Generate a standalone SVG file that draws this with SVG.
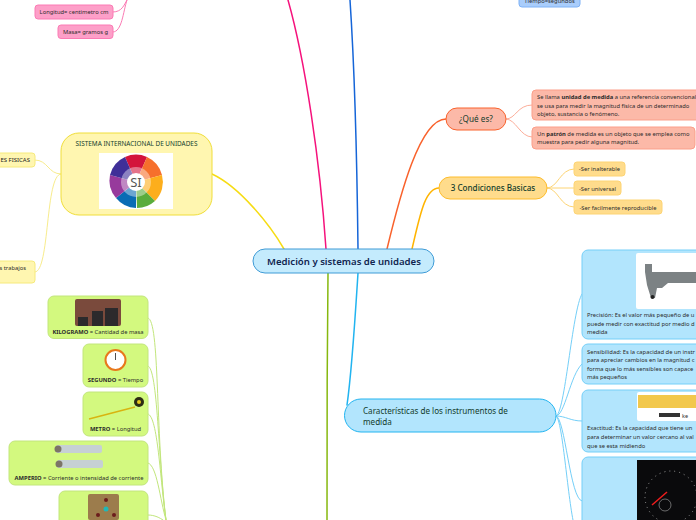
<svg xmlns="http://www.w3.org/2000/svg" width="696" height="520" viewBox="0 0 696 520">
<style>
text{font-family:"Noto Sans","Open Sans",sans-serif;font-size:5.8px;fill:#2c2c2c}
.b{font-weight:700}
.c{fill:none;stroke-linecap:round}
.pk{fill:#fd9fc8;stroke:#fb7bb4;stroke-width:1}
.ye{fill:#fff6b0;stroke:#f6ea7c;stroke-width:1}
.gr{fill:#d3f97f;stroke:#c2e67c;stroke-width:1}
.cy{fill:#b2e5fd;stroke:#74cff8;stroke-width:1}
.re{fill:#fcb9a8;stroke:#fb9f8a;stroke-width:1}
.or{fill:#ffdc8c;stroke:#fdd474;stroke-width:1}
.m{text-anchor:middle}
</style>
<rect width="696" height="520" fill="#fff"/>
<g id="connectors">
<path class="c" d="M326 249C320 160 305 60 288 0" stroke="#f5127c" stroke-width="1.500"/>
<path class="c" d="M113 12C122 12 124 5 127 0M113 32C122 32 123 12 127 0" stroke="#fb7bb4" stroke-width="1"/>
<path class="c" d="M358 249C357 160 354 60 350 0" stroke="#1565d8" stroke-width="1.500"/>
<path class="c" d="M387 249C400 195 420 119 446 119" stroke="#f9622c" stroke-width="1.500"/>
<path class="c" d="M412 249C420 215 425 188 439 188" stroke="#ffb400" stroke-width="1.500"/>
<path class="c" d="M284 249C270 225 240 187 212 174" stroke="#f6dc14" stroke-width="1.500"/>
<path class="c" d="M328 273C327 350 327 450 327 520" stroke="#86b80e" stroke-width="1.500"/>
<path class="c" d="M358 273C355 320 352 370 347 405" stroke="#22b4f0" stroke-width="1.500"/>
<path class="c" d="M506 119C516 119 517 105 532 105M506 119C516 119 520 137 532 137" stroke="#fcae9a" stroke-width="1"/>
<path class="c" d="M547 188C558 188 560 169 574 169M547 188H574M547 188C558 188 560 207 574 207" stroke="#fdd474" stroke-width="1"/>
<path class="c" d="M61 174C48 174 48 160 35 160M61 174C45 174 50 272 35 272" stroke="#f8ec8c" stroke-width="1"/>
<path class="c" d="M148 318C160 320 155 430 166 520M148 366C158 368 158 460 166 520M148 414C158 416 160 480 166 520M148 463C157 465 160 500 166 520M148 515C155 515 160 518 163 520" stroke="#c2e67c" stroke-width="1"/>
<path class="c" d="M556 416C565 416 572 310 582 294M556 416C565 416 570 375 582 364M556 416C566 416 570 421 582 421M556 416C565 416 570 500 582 501M556 416C562 416 567 490 573 520" stroke="#74cff8" stroke-width="1"/>
</g>
<g id="n-central"><rect x="253" y="249" width="181" height="24" rx="12" fill="#c4ebfd" stroke="#3f9bd6"/><text x="344" y="265" class="m" style="font-size:9.600px;font-weight:600;fill:#10254f">Medición y sistemas de unidades</text></g>
<g id="n-tiempo"><rect x="519" y="-6" width="61" height="13" rx="3" fill="#a9cdfb" stroke="#7fb2f6"/><text x="549.500" y="3" class="m">Tiempo=segundos</text></g>
<g id="n-long"><rect x="35" y="5" width="78" height="14" rx="3" class="pk"/><text x="74" y="14" class="m">Longitud= centimetro cm</text></g>
<g id="n-masa"><rect x="58" y="25" width="55" height="13.500" rx="3" class="pk"/><text x="85.500" y="34" class="m">Masa= gramos g</text></g>
<g id="n-si">
<rect x="61" y="133" width="151" height="82" rx="18" class="ye" style="stroke:#f0de3a"/>
<text x="136.500" y="146" class="m" style="font-size:6.400px;fill:#123c2c">SISTEMA INTERNACIONAL DE UNIDADES</text>
<rect x="99" y="153" width="74" height="56" fill="#fff"/>
<path d="M136 182L125 157A27 27 0 0 1 147 157Z" fill="#d3143c"/>
<path d="M136 182L147 157A27 27 0 0 1 162 175Z" fill="#f6702c"/>
<path d="M136 182L162 175A27 27 0 0 1 155 201Z" fill="#fdae1c"/>
<path d="M136 182L155 201A27 27 0 0 1 137 208Z" fill="#5aac3c"/>
<path d="M136 182L136 208A27 27 0 0 1 116 198Z" fill="#0a6cb4"/>
<path d="M136 182L116 198A27 27 0 0 1 110 175Z" fill="#973a9c"/>
<path d="M136 182L110 175A27 27 0 0 1 125 157Z" fill="#3f2f98"/>
<circle cx="136" cy="182" r="15" fill="#fff" fill-opacity=".4"/>
<circle cx="136" cy="182" r="9" fill="#fff"/>
<text x="136" y="187" class="m" style="font-size:13px;fill:#555">SI</text>
</g>
<g id="n-fis"><rect x="-20" y="153" width="55" height="14" rx="3" class="ye"/><text x="30" y="162" text-anchor="end" style="font-size:6px;fill:#222">ES FISICAS</text></g>
<g id="n-trab"><rect x="-40" y="261" width="75" height="22" rx="3" class="ye"/><text x="26" y="270" text-anchor="end">s trabajos</text></g>
<g id="n-kg"><rect x="48" y="296" width="100" height="42.500" rx="6" class="gr"/>
<rect x="75" y="299" width="46" height="27" rx="2" fill="#7a4a3c"/><path d="M78 326V317h10v9zM92 326V311h11v15zM105 326V308h13v18z" fill="#2c2a2c"/>
<text x="98" y="334" class="m"><tspan class="b">KILOGRAMO</tspan> = Cantidad de masa</text></g>
<g id="n-s"><rect x="83" y="344" width="65" height="43" rx="6" class="gr"/>
<circle cx="115.500" cy="360" r="10" fill="#fff" stroke="#e8781c" stroke-width="2"/><path d="M115.500 360V353" stroke="#222" stroke-width=".8"/>
<text x="115.500" y="382" class="m"><tspan class="b">SEGUNDO</tspan> = Tiempo</text></g>
<g id="n-m"><rect x="83" y="392" width="65" height="44" rx="6" class="gr"/>
<path d="M89 419L135 407" stroke="#d8b410" stroke-width="1.500"/><circle cx="139" cy="402" r="5" fill="#2c2c14"/><circle cx="139" cy="402" r="2" fill="#e6c81c"/>
<text x="115.500" y="431" class="m"><tspan class="b">METRO</tspan> = Longitud</text></g>
<g id="n-a"><rect x="9" y="441" width="139" height="44" rx="6" class="gr"/>
<rect x="56" y="445" width="46" height="8" rx="2" fill="#c6d0d4"/><circle cx="58" cy="449" r="3.500" fill="#7c7468"/>
<rect x="57" y="460" width="46" height="8" rx="2" fill="#c6d0d4"/><circle cx="59" cy="464" r="3.500" fill="#7c7468"/>
<text x="79" y="480" class="m"><tspan class="b">AMPERIO</tspan> = Corriente o intensidad de corriente</text></g>
<g id="n-mol"><rect x="59" y="491" width="89" height="40" rx="6" class="gr"/>
<rect x="88" y="494" width="31" height="26" rx="2" fill="#9c7c4c"/><circle cx="106" cy="509" r="2.500" fill="#20b8b8"/><circle cx="106" cy="500" r="2" fill="#6c1c1c"/><circle cx="98" cy="515" r="2" fill="#6c1c1c"/><circle cx="114" cy="515" r="2" fill="#6c1c1c"/></g>
<g id="n-que"><rect x="446" y="108" width="60" height="22" rx="11" fill="#fcb9a8" stroke="#f9622c"/><text x="476" y="122" class="m" style="font-size:8.200px;fill:#123c2c">¿Qué es?</text></g>
<g id="n-r1"><rect x="532" y="90" width="180" height="30" rx="4" class="re"/><text x="537" y="99">Se llama <tspan class="b">unidad de medida</tspan> a una referencia convencional</text><text x="537" y="108">se usa para medir la magnitud física de un determinado</text><text x="537" y="116">objeto, sustancia o fenómeno.</text></g>
<g id="n-r2"><rect x="532" y="127" width="163" height="22" rx="4" class="re"/><text x="537" y="136">Un <tspan class="b">patrón</tspan> de medida es un objeto que se emplea como</text><text x="537" y="144">muestra para pedir alguna magnitud.</text></g>
<g id="n-cond"><rect x="439" y="177" width="108" height="22" rx="11" class="or" style="stroke:#fdbc2c"/><text x="493" y="191" class="m" style="font-size:8.100px;font-weight:500;fill:#123c2c">3 Condiciones Basicas</text></g>
<g id="n-c1"><rect x="574" y="162" width="51" height="14" rx="3" class="or"/><text x="599.500" y="171" class="m">-Ser inalterable</text></g>
<g id="n-c2"><rect x="574" y="181" width="47" height="14" rx="3" class="or"/><text x="597.500" y="191" class="m">-Ser universal</text></g>
<g id="n-c3"><rect x="574" y="200" width="88" height="14" rx="3" class="or"/><text x="618" y="210" class="m">-Ser facilmente reproducible</text></g>
<g id="n-car"><rect x="344.500" y="399" width="211.500" height="33" rx="16.500" fill="#b2e5fd" stroke="#22b4f0"/><text x="363" y="414" style="font-size:8.100px;fill:#123c2c">Características de los instrumentos de</text><text x="363" y="425" style="font-size:8.100px;fill:#123c2c">medida</text></g>
<g id="n-prec"><rect x="582" y="250" width="130" height="89" rx="6" class="cy"/><rect x="636" y="253" width="70" height="56" rx="2" fill="#fff"/>
<path d="M645 264L652 264V272H696V283H668L662 288H657L655 298H651L647 285L645 272Z" fill="#7c8284"/><circle cx="652.500" cy="297" r="2" fill="#222"/>
<text x="587" y="317">Precisión: Es el valor más pequeño de u</text><text x="587" y="326">puede medir con exactitud por medio  d</text><text x="587" y="334">medida</text></g>
<g id="n-sens"><rect x="582" y="344" width="130" height="40" rx="6" class="cy"/><text x="587" y="354">Sensibilidad: Es la capacidad de un instr</text><text x="587" y="362">para apreciar cambios en la magnitud c</text><text x="587" y="371">forma que lo más sensibles son capace</text><text x="587" y="379">más pequeños</text></g>
<g id="n-exac"><rect x="582" y="390" width="130" height="62" rx="6" class="cy"/><rect x="637" y="392" width="65" height="29" rx="2" fill="#fff"/><rect x="638" y="395" width="60" height="13" fill="#f2c84c"/>
<rect x="659" y="413" width="21" height="4" fill="#333"/><text x="682" y="418" style="font-size:5.500px">ke</text>
<text x="587" y="430">Exactitud: Es la capacidad que tiene un</text><text x="587" y="439">para determinar un valor cercano al val</text><text x="587" y="448">que se esta midiendo</text></g>
<g id="n-vel"><rect x="582" y="457" width="130" height="80" rx="6" class="cy"/><rect x="637" y="460" width="65" height="60" fill="#0a0a0c"/>
<circle cx="671" cy="497" r="26" fill="none" stroke="#9a9a9a" stroke-width="1" stroke-dasharray="1 4"/><path d="M652 505L667 492" stroke="#f01c1c" stroke-width="1.500"/><circle cx="665" cy="505" r="6" fill="none" stroke="#aaa" stroke-width=".6"/></g>
</svg>
